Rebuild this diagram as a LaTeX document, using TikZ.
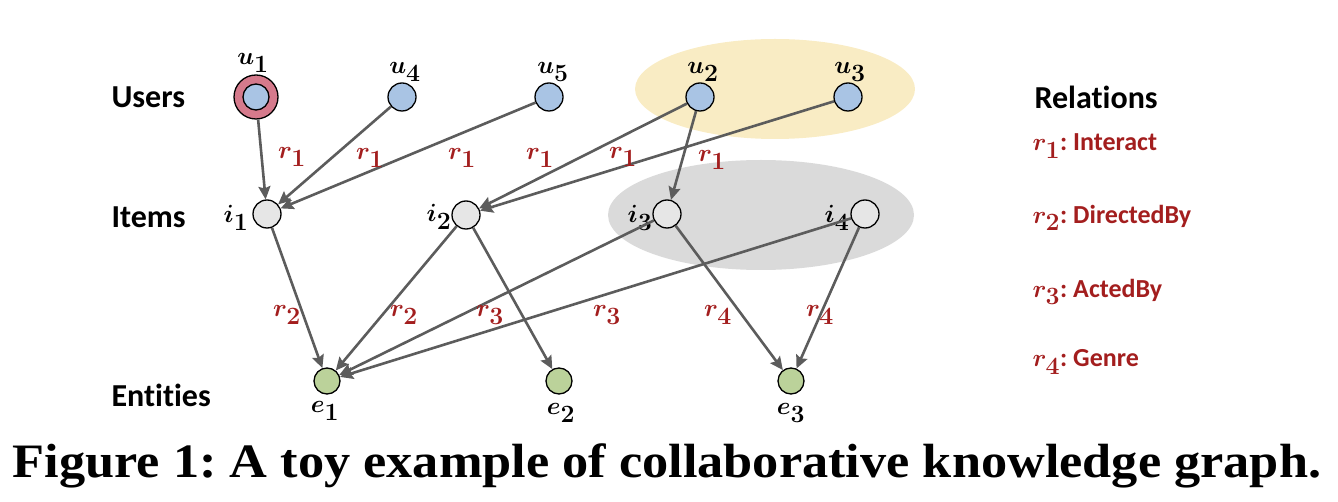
\documentclass[tikz,border=0pt]{standalone}
\usepackage{fontspec}
\usepackage{amsmath}
\usepackage{bm}
\usetikzlibrary{arrows.meta}
\newfontfamily\labelfont[Ligatures=NoCommon]{Carlito}
\newfontfamily\capfont{Liberation Serif}
\frenchspacing
\definecolor{userblue}{RGB}{169,196,228}
\definecolor{ringred}{RGB}{213,122,140}
\definecolor{itemgray}{RGB}{230,230,230}
\definecolor{entgreen}{RGB}{187,210,154}
\definecolor{relred}{RGB}{163,30,30}
\definecolor{edgegray}{RGB}{92,92,92}
\definecolor{yellowbg}{RGB}{249,236,196}
\definecolor{graybg}{RGB}{218,218,218}
\newcommand{\relsym}[1]{{\fontsize{34}{38}\selectfont$\bm{r}_{\bm #1}$}}
\tikzset{
  dot/.style={circle,draw=black,line width=1.3pt,inner sep=0pt,minimum size=28pt},
  user/.style={dot,fill=userblue},
  item/.style={dot,fill=itemgray},
  entity/.style={dot,fill=entgreen,minimum size=26pt},
  link/.style={draw=edgegray,line width=2.6pt,-{Stealth[length=13pt,width=12pt,inset=2pt]}},
  rowname/.style={anchor=west,font=\labelfont\bfseries\fontsize{32}{36}\selectfont},
  mathlab/.style={font=\fontsize{36}{40}\selectfont},
  rel/.style={text=relred,font=\labelfont\bfseries\fontsize{26}{30}\selectfont},
}
\begin{document}
\begin{tikzpicture}[x=1pt,y=-1pt]
\useasboundingbox (0,0) rectangle (1338,502);
% groups
\fill[yellowbg] (775,89) ellipse [x radius=140,y radius=50];
\fill[graybg] (761,215) ellipse [x radius=153,y radius=55];
% row names
\node[rowname] (users) at (108,97) {Users};
\node[rowname] (items) at (108,217) {Items};
\node[rowname] (ents) at (108,395) {Entities};
% users
\node[circle,draw=black,line width=1.3pt,fill=ringred,inner sep=0pt,minimum size=44pt] (u1) at (256,97) {};
\node[user,minimum size=26pt] (u1in) at (256,97) {};
\node[user] (u4) at (402,97) {};
\node[user] (u5) at (549,97) {};
\node[user] (u2) at (700,97) {};
\node[user] (u3) at (848,97) {};
\node[mathlab] at (253,63) {$\bm{u}_{\bm 1}$};
\node[mathlab] at (405,72) {$\bm{u}_{\bm 4}$};
\node[mathlab] at (553,72) {$\bm{u}_{\bm 5}$};
\node[mathlab] at (703,72) {$\bm{u}_{\bm 2}$};
\node[mathlab] at (850,72) {$\bm{u}_{\bm 3}$};
% items
\node[item] (i1) at (267,214) {};
\node[item] (i2) at (466,215) {};
\node[item] (i3) at (667,214) {};
\node[item] (i4) at (865,214) {};
\node[mathlab] at (236,218) {$\bm{i}_{\bm 1}$};
\node[mathlab] at (439,217) {$\bm{i}_{\bm 2}$};
\node[mathlab] at (640,218) {$\bm{i}_{\bm 3}$};
\node[mathlab] at (837,218) {$\bm{i}_{\bm 4}$};
% entities
\node[entity] (e1) at (327,381) {};
\node[entity] (e2) at (559,381) {};
\node[entity] (e3) at (791,381) {};
\node[mathlab] at (325,411) {$\bm{e}_{\bm 1}$};
\node[mathlab] at (561,413) {$\bm{e}_{\bm 2}$};
\node[mathlab] at (791,413) {$\bm{e}_{\bm 3}$};
% user-item links
\draw[link] (u1) -- (i1);
\draw[link] (u4) -- (i1);
\draw[link] (u5) -- (i1);
\draw[link] (u2) -- (i2);
\draw[link] (u3) -- (i2);
\draw[link] (u2) -- (i3);
% item-entity links
\draw[link] (i1) -- (e1);
\draw[link] (i2) -- (e1);
\draw[link] (i2) -- (e2);
\draw[link] (i3) -- (e1);
\draw[link] (i4) -- (e1);
\draw[link] (i3) -- (e3);
\draw[link] (i4) -- (e3);
% relation labels
\foreach \x/\y in {292/157,370/158,462/158,540/158,623/157,712/160}
  \node[rel] at (\x,\y) {\relsym{1}};
\node[rel] at (287,315) {\relsym{2}};
\node[rel] at (404,315) {\relsym{2}};
\node[rel] at (490,315) {\relsym{3}};
\node[rel] at (607,315) {\relsym{3}};
\node[rel] at (718,315) {\relsym{4}};
\node[rel] at (820,315) {\relsym{4}};
% legend
\node[rowname] (relations) at (1031,97) {Relations};
\node[rel,anchor=west] (leg1) at (1029,146) {\relsym{1}: Interact};
\node[rel,anchor=west] (leg2) at (1029,218) {\relsym{2}: DirectedBy};
\node[rel,anchor=west] (leg3) at (1029,292) {\relsym{3}: ActedBy};
\node[rel,anchor=west] (leg4) at (1029,362) {\relsym{4}: Genre};
% caption
\node[font=\capfont\bfseries\fontsize{48}{54}\selectfont,xscale=1.09] (caption) at (667,466) {Figure 1: A toy example of collaborative knowledge graph.};
\end{tikzpicture}
\end{document}
